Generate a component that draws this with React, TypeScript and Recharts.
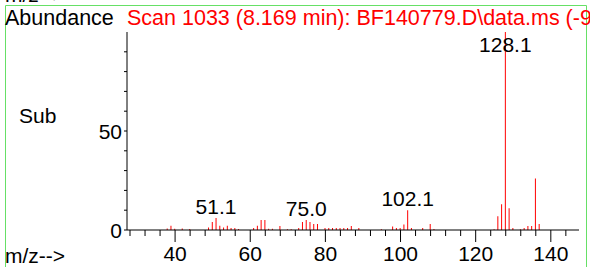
import { ComposedChart, Bar, XAxis, YAxis, LabelList } from "recharts";

const mzValues = [
  38, 39, 40, 42, 44, 49, 50, 51, 52, 53, 54, 55, 56, 57, 61, 62, 63, 64, 65, 66,
  68, 70, 71, 73, 74, 75, 76, 77, 78, 80, 81, 82, 83, 84, 85, 86, 87, 89, 95, 98,
  99, 100, 101, 102, 103, 106, 108, 109, 125, 126, 127, 128, 129, 130, 132, 133,
  134, 135, 136, 137,
];
const abundances = [
  0.8, 2.2, 0.6, 0.8, 0.5, 1.2, 4, 6, 2.2, 1.2, 2.2, 1, 1, 0.5, 1, 2.2, 5, 5, 0.6,
  0.6, 2, 0.4, 0.4, 1, 4, 5, 4, 3, 3, 1, 1, 1, 1, 1, 1, 1, 2, 1, 0.4, 1.8, 1, 1,
  2.8, 10, 1, 1, 3, 0.5, 0.4, 7, 13, 100, 11, 1, 0.4, 1, 2, 2, 26, 3,
];
const peakLabelMz = [51, 75, 102, 128];
const peakLabelText = ["51.1", "75.0", "102.1", "128.1"];

const xTicks = [28, 32, 36, 40, 44, 48, 52, 56, 60, 64, 68, 72, 76, 80, 84, 88, 92, 96, 100, 104, 108, 112, 116, 120, 124, 128, 132, 136, 140, 144];
const yTicks = [0, 10, 20, 30, 40, 50, 60, 70, 80, 90];
const yLabelled = [0, 50];

const title = "Scan 1033 (8.169 min): BF140779.D\\data.ms (-9";

const data = mzValues.map((mz, i) => {
  const k = peakLabelMz.indexOf(mz);
  return { mz, abundance: abundances[i], label: k >= 0 ? peakLabelText[k] : "" };
});

const FONT = "'Liberation Sans', Arial, sans-serif";
const LABEL_MIN_Y = 52;

const XTick = (props: any) => {
  const { x, y, payload } = props;
  const major = payload.value % 20 === 0;
  return (
    <g>
      <line x1={x} x2={x} y1={y} y2={y + (major ? 12 : 6)} stroke="#000" />
      {major && (
        <text x={x} y={y + 31} textAnchor="middle" fontSize={21} fontFamily={FONT} fill="#000">
          {payload.value}
        </text>
      )}
    </g>
  );
};

const YTick = (props: any) => {
  const { x, y, payload } = props;
  return (
    <g>
      <line x1={x - 3} x2={x} y1={y} y2={y} stroke="#000" />
      {yLabelled.includes(payload.value) && (
        <text x={x - 5} y={y + 7.5} textAnchor="end" fontSize={21} fontFamily={FONT} fill="#000">
          {payload.value}
        </text>
      )}
    </g>
  );
};

const PeakLabel = (props: any) => {
  const { x, y, width, value } = props;
  if (!value) return null;
  return (
    <text
      x={x + width / 2}
      y={Math.max(y - 4, LABEL_MIN_Y)}
      textAnchor="middle"
      fontSize={21}
      fontFamily={FONT}
      fill="#000"
    >
      {value}
    </text>
  );
};

export default function App() {
  return (
    <div style={{ position: "absolute", left: 0, top: 0, width: 590, height: 267, background: "#fff", overflow: "hidden" }}>
      <ComposedChart
        width={590}
        height={267}
        data={data}
        margin={{ top: 32, right: 11, bottom: 0, left: 0 }}
      >
        <XAxis
          dataKey="mz"
          type="number"
          domain={[27.2, 147.5]}
          allowDataOverflow
          ticks={xTicks}
          interval={0}
          height={37}
          tickSize={0}
          tickMargin={0}
          tickLine={false}
          axisLine={{ stroke: "#000" }}
          tick={<XTick />}
        />
        <YAxis
          type="number"
          domain={[0, 100]}
          ticks={yTicks}
          interval={0}
          width={127}
          tickSize={0}
          tickMargin={0}
          tickLine={false}
          axisLine={{ stroke: "#000" }}
          tick={<YTick />}
        />
        <Bar dataKey="abundance" fill="#ff0000" barSize={1} isAnimationActive={false}>
          <LabelList dataKey="label" content={<PeakLabel />} />
        </Bar>
      </ComposedChart>
      <svg width={590} height={267} style={{ position: "absolute", left: 0, top: 0, pointerEvents: "none" }}>
        <path d="M5.5 267 V5.5 H586.5 V267" fill="none" stroke="#66e066" strokeWidth={1} />
        <text x={5} y={1.5} fontSize={21} fontFamily={FONT} fill="#000">m/z--&gt;</text>
        <text x={5} y={25} fontSize={21.5} fontFamily={FONT} fill="#000">Abundance</text>
        <text x={127} y={25} fontSize={21.5} fontFamily={FONT} fill="#ff0000">{title}</text>
        <text x={19} y={123} fontSize={21} fontFamily={FONT} fill="#000">Sub</text>
        <text x={5} y={263} fontSize={21} fontFamily={FONT} fill="#000">m/z--&gt;</text>
      </svg>
    </div>
  );
}
